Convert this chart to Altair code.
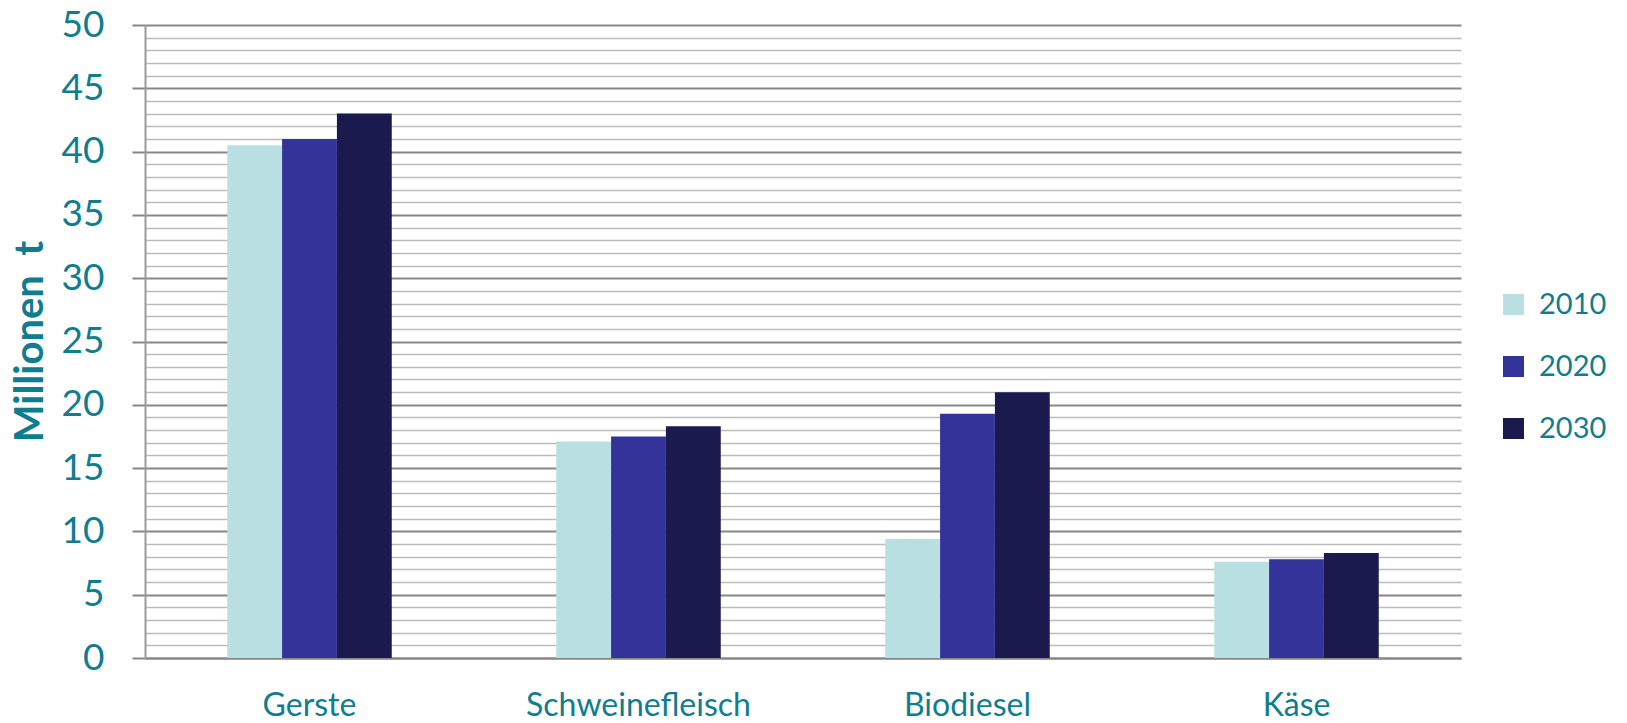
import altair as alt
import pandas as pd

# Production volumes (million tonnes) by product and year
categories = ["Gerste", "Schweinefleisch", "Biodiesel", "Käse"]
years = ["2010", "2020", "2030"]
v2010 = [40.5, 17.1, 9.4, 7.6]
v2020 = [41.0, 17.5, 19.3, 7.8]
v2030 = [43.0, 18.3, 21.0, 8.3]
y_ticks = list(range(0, 51))

colors = ["#B9DFE2", "#343399", "#1B1A4E"]
teal = "#107D8F"
font = "Lato"

rows = []
for year, vals in zip(years, [v2010, v2020, v2030]):
    for cat, v in zip(categories, vals):
        rows.append({"Produkt": cat, "Jahr": year, "Wert": v})
df = pd.DataFrame(rows)

major = "datum.value % 5 === 0"

y_axis = alt.Axis(
    values=y_ticks,
    labelExpr=f"{major} ? datum.label : ''",
    grid=True,
    gridColor={"condition": {"test": major, "value": "#878787"}, "value": "#bcbcbc"},
    gridWidth={"condition": {"test": major, "value": 2}, "value": 1.6},
    ticks=True,
    tickSize=13,
    tickWidth=2,
    tickColor="#878787",
    tickOpacity={"condition": {"test": major, "value": 1}, "value": 0},
    domain=True,
    domainColor="#9a9a9a",
    domainWidth=2,
    labelFont=font,
    labelFontSize=37,
    labelColor=teal,
    labelPadding=28,
    title="Millionen\u00a0 t",
    titleFont=font,
    titleFontWeight="bold",
    titleFontSize=40,
    titleColor=teal,
    titleAngle=270,
    titleAlign="center",
    titleBaseline="middle",
    titleX=-115,
    titleY=316,
)

x_axis = alt.Axis(
    title=None,
    ticks=False,
    grid=False,
    domain=True,
    domainColor="#878787",
    domainWidth=2,
    labelAngle=0,
    labelFont=font,
    labelFontSize=32,
    labelColor=teal,
    labelPadding=32,
    labelLimit=0,
)

legend = alt.Legend(
    title=None,
    orient="none",
    legendX=1354,
    legendY=265,
    direction="vertical",
    symbolType="square",
    symbolSize=441,
    symbolStrokeWidth=0,
    symbolOpacity=1,
    labelFont=font,
    labelFontSize=29,
    labelColor=teal,
    labelOffset=11,
    rowPadding=32,
    padding=0,
)

chart = (
    alt.Chart(df)
    .mark_bar(opacity=1)
    .encode(
        x=alt.X(
            "Produkt:N",
            sort=categories,
            scale=alt.Scale(paddingInner=0.5, paddingOuter=0.25),
            axis=x_axis,
        ),
        xOffset=alt.XOffset(
            "Jahr:N", sort=years, scale=alt.Scale(paddingInner=0, paddingOuter=0)
        ),
        y=alt.Y(
            "Wert:Q",
            scale=alt.Scale(domain=[0, 50], nice=False, zero=True),
            axis=y_axis,
        ),
        color=alt.Color(
            "Jahr:N",
            sort=years,
            scale=alt.Scale(domain=years, range=colors),
            legend=legend,
        ),
    )
    .properties(
        width=1316,
        height=633,
        autosize=alt.AutoSizeParams(type="none"),
        padding={"left": 145, "top": 25, "right": 166, "bottom": 65},
        background="white",
    )
    .configure_view(stroke=None)
)

chart.save("out.html", embed_options={"renderer": "svg", "actions": False})
